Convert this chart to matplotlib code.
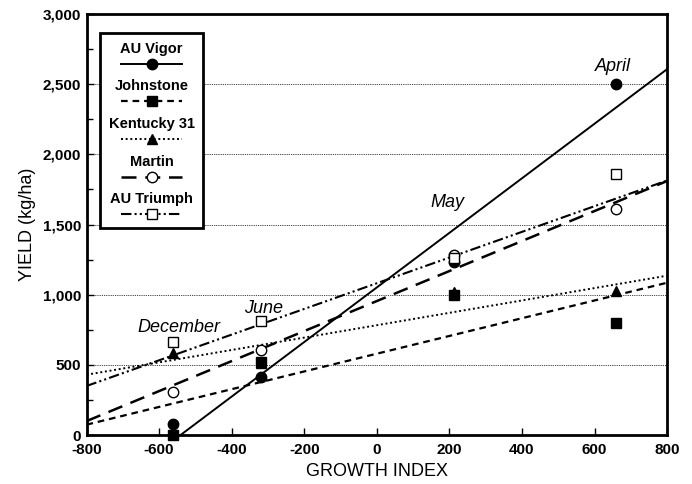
import matplotlib
matplotlib.use("Agg")
import matplotlib.pyplot as plt
import matplotlib.patches as patches
import numpy as np

plt.rcParams['font.family'] = ['Liberation Sans', 'DejaVu Sans']
plt.rcParams['axes.unicode_minus'] = False

# --- DATA ---
cultivars = ['AU Vigor', 'Johnstone', 'Kentucky 31', 'Martin', 'AU Triumph']
growth_index = [-562, -319, 213, 660]          # December, June, May, April
yields = {
    'AU Vigor':    [80, 412, 1236, 2500],
    'Johnstone':   [0, 520, 1000, 800],
    'Kentucky 31': [585, 515, 1020, 1030],
    'Martin':      [307, 607, 1286, 1614],
    'AU Triumph':  [665, 812, 1262, 1857],
}
# fitted regression lines: (slope, intercept)
fits = {
    'AU Vigor':    (1.944, 1052),
    'Johnstone':   (0.632, 580),
    'Kentucky 31': (0.441, 783),
    'Martin':      (1.069, 955),
    'AU Triumph':  (0.915, 1082),
}
months = ['December', 'June', 'May', 'April']
month_pos = [(-545, 770), (-312, 905), (195, 1655), (652, 2625)]

# --- STYLES ---
styles = {
    'AU Vigor':    dict(marker='o', mfc='black', ls='-', lw=1.4),
    'Johnstone':   dict(marker='s', mfc='black', ls=(0, (3.0, 2.2)), lw=1.6),
    'Kentucky 31': dict(marker='^', mfc='black', ls=(0, (1.0, 1.4)), lw=1.4),
    'Martin':      dict(marker='o', mfc='white', ls=(0, (6.0, 3.5)), lw=1.8),
    'AU Triumph':  dict(marker='s', mfc='white', ls=(0, (5, 1.5, 1, 1.5, 1, 1.5)), lw=1.5),
}

fig = plt.figure(figsize=(6.92, 4.84), dpi=100)
ax = fig.add_axes([0.125, 0.101, 0.839, 0.870])

xs = np.array([-800, 800])
for name in cultivars:
    st = styles[name]
    m, b = fits[name]
    ax.plot(xs, m * xs + b, color='black', ls=st['ls'], lw=st['lw'], zorder=2)
    ax.plot(growth_index, yields[name], ls='none', marker=st['marker'],
            mfc=st['mfc'], mec='black', mew=1.0, ms=7.5, zorder=3, clip_on=False)

for lab, (mx, my) in zip(months, month_pos):
    ax.text(mx, my, lab, style='italic', fontsize=13, ha='center', va='center')

ax.set_xlim(-800, 800)
ax.set_ylim(0, 3000)
ax.set_xticks(np.arange(-800, 801, 200))
ax.set_yticks(np.arange(0, 3001, 500))
ax.set_yticks(np.arange(250, 3000, 500), minor=True)
ax.set_yticklabels([f'{v:,}' for v in range(0, 3001, 500)])
for gy in range(500, 3000, 500):
    ax.axhline(gy, color='black', lw=0.6, ls=(0, (1, 1.2)), zorder=1)

ax.tick_params(direction='in', length=5, width=1, labelsize=11)
ax.tick_params(axis='x', pad=6)
ax.tick_params(axis='y', pad=4)
ax.tick_params(which='minor', direction='in', length=4, width=1)
for lbl in ax.get_xticklabels() + ax.get_yticklabels():
    lbl.set_fontweight('bold')
for sp in ax.spines.values():
    sp.set_linewidth(2)

ax.set_xlabel('GROWTH INDEX', fontsize=13, labelpad=4)
ax.set_ylabel('YIELD (kg/ha)', fontsize=13, labelpad=5)

# --- LEGEND (label above handle) ---
lx0, lx1, ly0, ly1 = 0.023, 0.201, 0.492, 0.955
ax.add_patch(patches.Rectangle((lx0, ly0), lx1 - lx0, ly1 - ly0, transform=ax.transAxes,
                               fill=True, fc='white', ec='black', lw=2, zorder=5))
cx = (lx0 + lx1) / 2
for i, name in enumerate(cultivars):
    st = styles[name]
    ty = 0.918 - i * 0.0895
    hy = ty - 0.036
    ax.text(cx, ty, name, transform=ax.transAxes, ha='center', va='center',
            fontsize=10.5, fontweight='bold', zorder=6)
    ax.plot([cx - 0.052, cx + 0.052], [hy, hy], transform=ax.transAxes, color='black',
            ls=st['ls'], lw=st['lw'], zorder=6)
    ax.plot([cx], [hy], transform=ax.transAxes, marker=st['marker'], mfc=st['mfc'],
            mec='black', mew=1.0, ms=7.5, zorder=7)

fig.savefig('out.png', dpi=100)
